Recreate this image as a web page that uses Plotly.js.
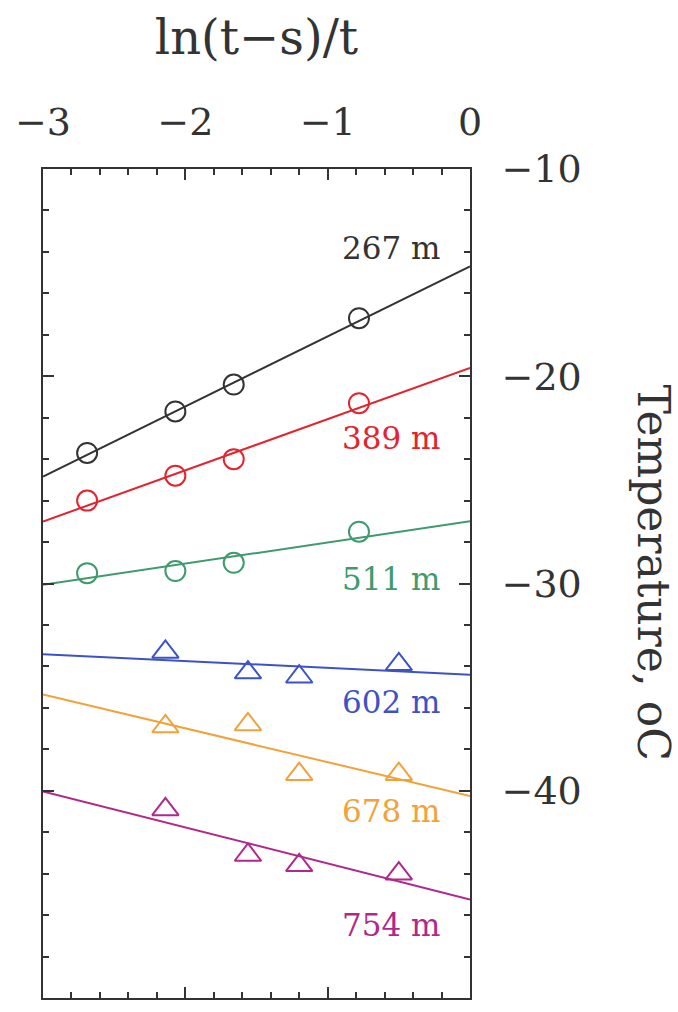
<!DOCTYPE html>
<html>
<head>
<meta charset="utf-8">
<script src="https://cdn.plot.ly/plotly-3.0.1.min.js"></script>
<style>html,body{margin:0;padding:0;background:#fff;}#chart{width:678px;height:1012px;}</style>
</head>
<body>
<div id="chart"></div>
<script>
// Depth labels
const depths = ['267 m', '389 m', '511 m', '602 m', '678 m', '754 m'];
const colors = ['#333333', '#e3232e', '#3f9a6e', '#3d52c6', '#f2a23a', '#b0288a'];
const symbols = ['circle-open', 'circle-open', 'circle-open', 'triangle-up-open', 'triangle-up-open', 'triangle-up-open'];

// Observation x positions: ln(t-s)/t
const xCircles = [-2.69, -2.07, -1.66, -0.78];
const xTriangles = [-2.14, -1.56, -1.20, -0.50];

// Temperatures (oC)
const t267 = [-23.7, -21.7, -20.4, -17.2];
const t389 = [-26.0, -24.8, -24.0, -21.3];
const t511 = [-29.5, -29.4, -29.0, -27.5];
const t602 = [-33.3, -34.3, -34.5, -33.9];
const t678 = [-36.9, -36.8, -39.2, -39.2];
const t754 = [-40.9, -43.1, -43.6, -44.0];

// Fitted lines: value at x=0 and slope
const fitIntercept = [-14.7, -19.6, -27.0, -34.4, -40.25, -45.25];
const fitSlope = [3.38, 2.47, 1.02, -0.33, -1.63, -1.74];

// Label positions (y) in data units
const labelY = [-13.8, -23.0, -29.8, -35.7, -41.0, -46.5];

const temps = [t267, t389, t511, t602, t678, t754];
const xs = [xCircles, xCircles, xCircles, xTriangles, xTriangles, xTriangles];
const lineX = [-3, 0];

const font = 'DejaVu Serif';
const data = [];
temps.forEach((t, i) => {
  data.push({
    x: lineX,
    y: lineX.map(v => fitIntercept[i] + fitSlope[i] * v),
    mode: 'lines', type: 'scatter',
    line: {color: colors[i], width: 2},
    hoverinfo: 'skip', showlegend: false
  });
  data.push({
    x: xs[i], y: t,
    mode: 'markers', type: 'scatter',
    marker: {symbol: symbols[i], size: i < 3 ? 20 : 23, color: colors[i], line: {width: 2, color: colors[i]}},
    showlegend: false
  });
});

const annotations = depths.map((d, i) => ({
  x: -0.2, y: labelY[i], xref: 'x', yref: 'y',
  text: d, showarrow: false, xanchor: 'right', yanchor: 'middle',
  font: {family: font, size: 31, color: colors[i]}
}));
annotations.push({
  x: 1, xref: 'paper', xanchor: 'center', xshift: 183,
  y: 0.5, yref: 'paper', yanchor: 'middle', yshift: 11,
  text: 'Temperature, oC', showarrow: false, textangle: 90,
  font: {family: font, size: 44, color: '#333'}
});

const layout = {
  width: 678, height: 1012,
  margin: {l: 43, r: 208, t: 169, b: 14},
  paper_bgcolor: '#fff', plot_bgcolor: '#fff',
  showlegend: false,
  font: {family: font, color: '#333'},
  xaxis: {
    side: 'top', range: [-3, 0], dtick: 1, tick0: 0,
    ticks: 'inside', ticklen: 11, tickwidth: 2, tickcolor: '#333',
    minor: {dtick: 0.2, ticks: 'inside', ticklen: 6, tickwidth: 2, tickcolor: '#333'},
    showline: true, linecolor: '#333', linewidth: 2, mirror: 'ticks',
    showgrid: false, zeroline: false,
    tickfont: {family: font, size: 38, color: '#333'},
    ticklabelstandoff: 17,
    title: {text: 'ln(t−s)/t', font: {family: font, size: 48, color: '#333'}, standoff: 30}
  },
  yaxis: {
    side: 'right', range: [-50, -10], dtick: 10, tick0: 0,
    ticks: 'inside', ticklen: 11, tickwidth: 2, tickcolor: '#333',
    minor: {dtick: 2, ticks: 'inside', ticklen: 6, tickwidth: 2, tickcolor: '#333'},
    showline: true, linecolor: '#333', linewidth: 2, mirror: 'ticks',
    showgrid: false, zeroline: false,
    tickfont: {family: font, size: 38, color: '#333'},
    ticklabelstandoff: 22
  },
  annotations: annotations
};

Plotly.newPlot('chart', data, layout, {displayModeBar: false, staticPlot: true});
</script>
</body>
</html>
